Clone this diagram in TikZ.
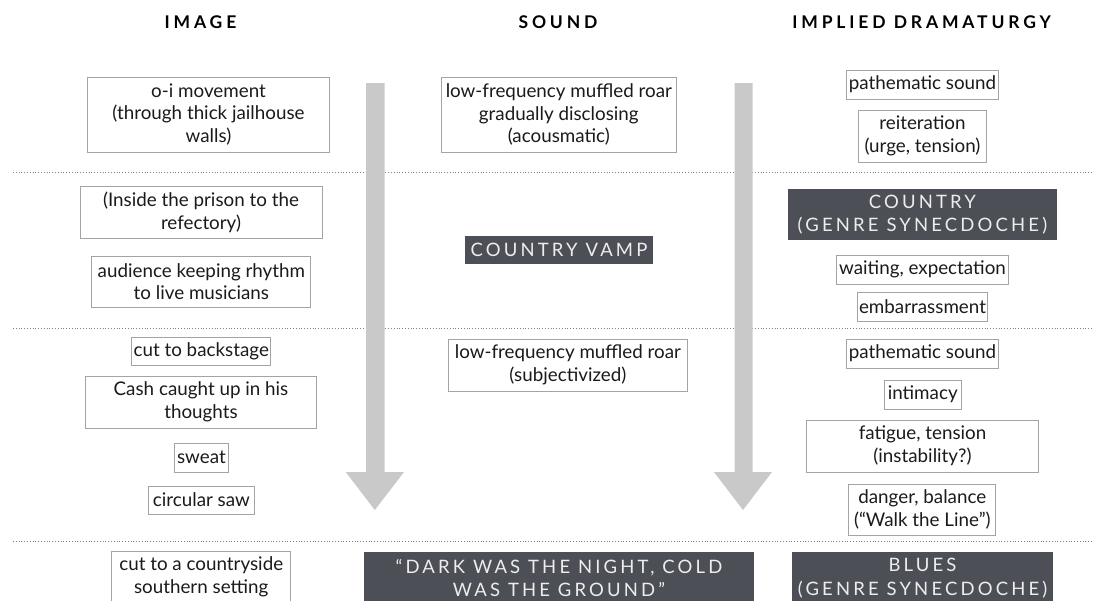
\documentclass[tikz,border=0pt]{standalone}
\usepackage{fontspec}
\setmainfont{Lato}
\newfontfamily\hdfont[LetterSpace=22]{Lato}
\newfontfamily\capfont[LetterSpace=17]{Lato}
\definecolor{boxgray}{HTML}{A4A4A4}
\definecolor{arrowgray}{HTML}{C9C9C9}
\definecolor{darkbox}{HTML}{4C4F55}
\definecolor{darktext}{HTML}{EDEDED}
\definecolor{bodytext}{HTML}{1A1A1A}
\definecolor{dotgray}{HTML}{808080}
\tikzset{
  header/.style={font=\hdfont\bfseries\fontsize{17.5}{20}\selectfont, text=black, inner sep=0pt},
  box/.style={draw=boxgray, line width=0.9pt, inner sep=0pt, align=center, text=bodytext,
    font=\fontsize{18.8}{22.7}\selectfont},
  darkbox/.style={fill=darkbox, inner sep=0pt, align=center, text=darktext,
    font=\capfont\fontsize{18.5}{23.5}\selectfont},
  sep/.style={draw=dotgray, line width=0.8pt, dotted},
  flow/.style={fill=arrowgray, draw=none}
}
\begin{document}
\begin{tikzpicture}[x=1pt,y=-1pt]
\useasboundingbox (0,0) rectangle (1094,600);
% headers
\node[header] (hImage) at (200.5,22.5) {IMAGE};
\node[header] (hSound) at (558,22.5) {SOUND};
\node[header] (hDram) at (921.6,22.5) {IMPLIED DRAMATURGY};
% separators
\coordinate (s1a) at (13,172); \coordinate (s1b) at (1094,172);
\coordinate (s2a) at (13,328); \coordinate (s2b) at (1094,328);
\coordinate (s3a) at (13,541); \coordinate (s3b) at (1094,541);
\draw[sep] (s1a) -- (s1b);
\draw[sep] (s2a) -- (s2b);
\draw[sep] (s3a) -- (s3b);
% arrows
\fill[flow] (366,83) -- (384.5,83) -- (384.5,472) -- (404,472) -- (374.8,510) -- (345.7,472) -- (366,472) -- cycle;
\fill[flow] (734.5,83) -- (752.7,83) -- (752.7,472) -- (772,472) -- (743,510) -- (714,472) -- (734.5,472) -- cycle;
% row 1
\node[box, minimum width=242, minimum height=75] (i1) at (208.5,114.5) {o-i movement\\(through thick jailhouse\\walls)};
\node[box, minimum width=235, minimum height=75] (s1) at (558.8,114.5) {low-frequency muffled roar\\gradually disclosing\\(acousmatic)};
\node[box, minimum width=152, minimum height=29] (d1) at (922.5,84.5) {pathematic sound};
\node[box, minimum width=128, minimum height=52] (d2) at (922.5,136) {reiteration\\(urge, tension)};
% row 2
\node[box, minimum width=242, minimum height=52] (i2) at (201,212) {(Inside the prison to the\\refectory)};
\node[box, minimum width=219, minimum height=51] (i3) at (201.4,281.5) {audience keeping rhythm\\to live musicians};
\node[darkbox, minimum width=188, minimum height=28] (s2) at (559,250) {COUNTRY VAMP};
\node[darkbox, minimum width=269, minimum height=51] (d3) at (922.4,214.5) {COUNTRY\\(GENRE SYNECDOCHE)};
\node[box, minimum width=172.6, minimum height=29] (d4) at (922.5,269.5) {waiting, expectation};
\node[box, minimum width=130.4, minimum height=29] (d5) at (922.5,306.5) {embarrassment};
% row 3
\node[box, minimum width=138.6, minimum height=28] (i4) at (201.2,351) {cut to backstage};
\node[box, minimum width=231.6, minimum height=52] (i5) at (201,402) {Cash caught up in his\\thoughts};
\node[box, minimum width=53.3, minimum height=29] (i6) at (201.4,457.5) {sweat};
\node[box, minimum width=105.3, minimum height=28] (i7) at (201.4,500) {circular saw};
\node[box, minimum width=239.8, minimum height=52] (s3) at (567.9,365) {low-frequency muffled roar\\(subjectivized)};
\node[box, minimum width=152, minimum height=29] (d6) at (922.5,353.5) {pathematic sound};
\node[box, minimum width=77.5, minimum height=29] (d7) at (922.7,394.5) {intimacy};
\node[box, minimum width=232.2, minimum height=52] (d8) at (922.5,446) {fatigue, tension\\(instability?)};
\node[box, minimum width=147, minimum height=51] (d9) at (922.3,509.5) {danger, balance\\(“Walk the Line”)};
% row 4
\node[box, minimum width=178.6, minimum height=52] (i8) at (201.2,577) {cut to a countryside\\southern setting};
\node[darkbox, minimum width=390.6, minimum height=52] (s4) at (559,578) {“DARK WAS THE NIGHT, COLD\\WAS THE GROUND”};
\node[darkbox, minimum width=260.3, minimum height=52] (d10) at (922.5,578) {BLUES\\(GENRE SYNECDOCHE)};
\end{tikzpicture}
\end{document}
